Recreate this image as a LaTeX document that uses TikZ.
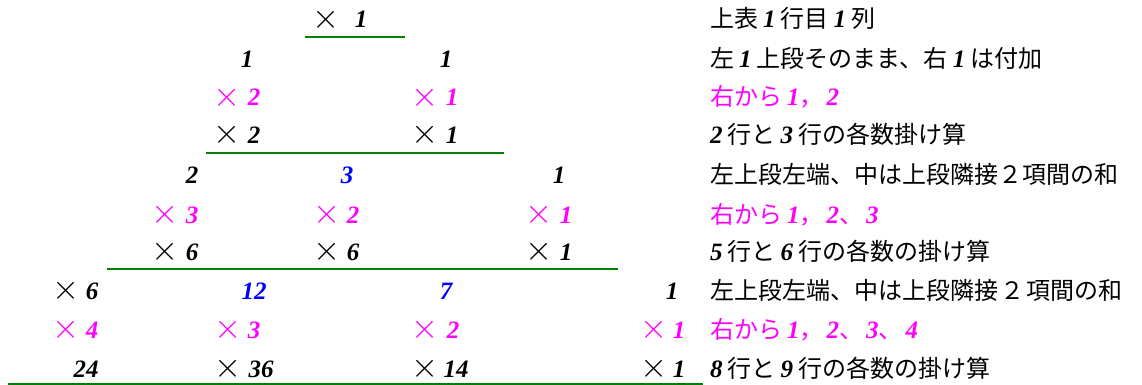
\documentclass[tikz,border=0pt]{standalone}
\usepackage{fontspec}
\newfontfamily\cjk{Noto Sans CJK JP}
\newfontfamily\numfam{Liberation Serif}
\definecolor{mag}{HTML}{FF00FF}
\definecolor{blu}{HTML}{0000FF}
\definecolor{grn}{HTML}{008000}
\newcommand\numfont{\numfam\fontsize{25}{28}\bfseries\itshape\selectfont}
\newcommand\numx[1]{\hspace{5pt}{\numfont #1}\hspace{5pt}}
\tikzset{
  num/.style={anchor=base, inner sep=0pt, font=\numfont},
  tms/.style={anchor=center, inner sep=0pt, scale=1.4, font=\fontsize{24.88}{28}\selectfont},
  txt/.style={anchor=base west, inner sep=0pt, font=\cjk\fontsize{24}{28}\selectfont},
  rulel/.style={grn, line width=2.2pt},
}
\begin{document}
\begin{tikzpicture}[x=1pt,y=-1pt]
\useasboundingbox (0,0) rectangle (1142,385);
% row 1
\node[tms] (t1a) at (326,19.5) {$\times$};
\node[num] (n1a) at (361,28) {1};
% row 2
\node[num] (n2a) at (247,68) {1};
\node[num] (n2b) at (446,68) {1};
% row 3
\node[tms,mag] (t3a) at (227,97.5) {$\times$};
\node[num,mag] (n3a) at (254,106) {2};
\node[tms,mag] (t3b) at (425,97.5) {$\times$};
\node[num,mag] (n3b) at (452,106) {1};
% row 4
\node[tms] (t4a) at (227,134.5) {$\times$};
\node[num] (n4a) at (254,143) {2};
\node[tms] (t4b) at (425,134.5) {$\times$};
\node[num] (n4b) at (452,143) {1};
% row 5
\node[num] (n5a) at (192,183) {2};
\node[num,blu] (n5b) at (347,183) {3};
\node[num] (n5c) at (559,183) {1};
% row 6
\node[tms,mag] (t6a) at (165,214.5) {$\times$};
\node[num,mag] (n6a) at (192,223) {3};
\node[tms,mag] (t6b) at (327,214.5) {$\times$};
\node[num,mag] (n6b) at (353,223) {2};
\node[tms,mag] (t6c) at (539,214.5) {$\times$};
\node[num,mag] (n6c) at (566,223) {1};
% row 7
\node[tms] (t7a) at (165,251.5) {$\times$};
\node[num] (n7a) at (192,260) {6};
\node[tms] (t7b) at (327,251.5) {$\times$};
\node[num] (n7b) at (353,260) {6};
\node[tms] (t7c) at (539,251.5) {$\times$};
\node[num] (n7c) at (566,260) {1};
% row 8
\node[tms] (t8a) at (66,290.5) {$\times$};
\node[num] (n8a) at (92,299) {6};
\node[num,blu] (n8b) at (254,299) {12};
\node[num,blu] (n8c) at (446,299) {7};
\node[num] (n8d) at (672,299) {1};
% row 9
\node[tms,mag] (t9a) at (66,329.5) {$\times$};
\node[num,mag] (n9a) at (92,338) {4};
\node[tms,mag] (t9b) at (228,329.5) {$\times$};
\node[num,mag] (n9b) at (254,338) {3};
\node[tms,mag] (t9c) at (425,329.5) {$\times$};
\node[num,mag] (n9c) at (453,338) {2};
\node[tms,mag] (t9d) at (654,329.5) {$\times$};
\node[num,mag] (n9d) at (679,338) {1};
% row 10
\node[num] (n10a) at (86,377) {24};
\node[tms] (t10b) at (228,368.5) {$\times$};
\node[num] (n10b) at (261,377) {36};
\node[tms] (t10c) at (425,368.5) {$\times$};
\node[num] (n10c) at (456,377) {14};
\node[tms] (t10d) at (654,368.5) {$\times$};
\node[num] (n10d) at (679,377) {1};
% rules
\coordinate (l1a) at (305,37); \coordinate (l1b) at (405,37);
\coordinate (l2a) at (206,153); \coordinate (l2b) at (504,153);
\coordinate (l3a) at (107,269); \coordinate (l3b) at (618,269);
\coordinate (l4a) at (8,383.9); \coordinate (l4b) at (703,383.9);
\draw[rulel] (l1a) -- (l1b);
\draw[rulel] (l2a) -- (l2b);
\draw[rulel] (l3a) -- (l3b);
\draw[rulel] (l4a) -- (l4b);
% right-hand texts
\node[txt] (r1) at (710,28) {上表\numx{1}行目\numx{1}列};
\node[txt] (r2) at (710,68) {左\numx{1}上段そのまま、右\numx{1}は付加};
\node[txt,mag] (r3) at (710,106) {右から\numx{1}\hspace{-5pt}，\hspace{-2pt}\numx{2}};
\node[txt] (r4) at (710,143) {\hspace{-5pt}\numx{2}行と\numx{3}行の各数掛け算};
\node[txt] (r5) at (710,183) {左上段左端、中は上段隣接２項間の和};
\node[txt,mag] (r6) at (710,223) {右から\numx{1}\hspace{-5pt}，\hspace{-2pt}\numx{2}\hspace{-5pt}、\hspace{-2pt}\numx{3}};
\node[txt] (r7) at (710,260) {\hspace{-5pt}\numx{5}行と\numx{6}行の各数の掛け算};
\node[txt] (r8) at (710,299) {左上段左端、中は上段隣接\hspace{2pt}２\hspace{2pt}項間の和};
\node[txt,mag] (r9) at (710,338) {右から\numx{1}\hspace{-5pt}，\hspace{-2pt}\numx{2}\hspace{-5pt}、\hspace{-2pt}\numx{3}\hspace{-5pt}、\hspace{-2pt}\numx{4}};
\node[txt] (r10) at (710,377) {\hspace{-5pt}\numx{8}行と\numx{9}行の各数の掛け算};
\end{tikzpicture}
\end{document}
